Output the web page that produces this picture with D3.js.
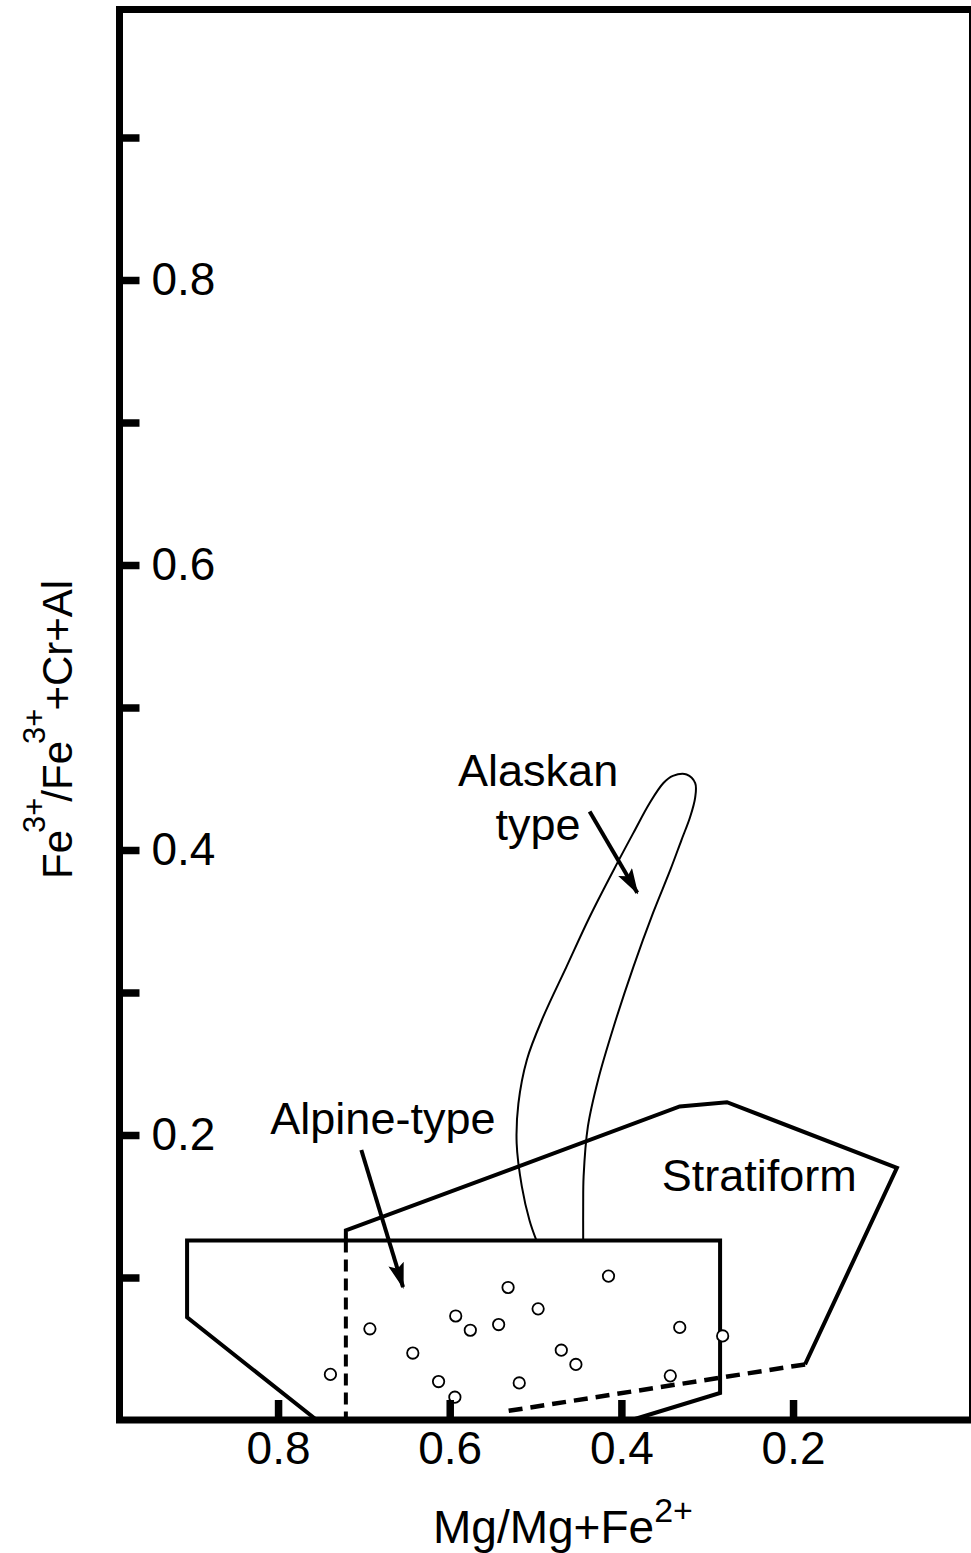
<!DOCTYPE html>
<html>
<head>
<meta charset="utf-8">
<script src="https://cdn.jsdelivr.net/npm/d3@7"></script>
<style>
  html, body { margin: 0; padding: 0; background: #fff; }
  svg { display: block; }
  text { font-family: "Liberation Sans", Arial, Helvetica, sans-serif; fill: #000; }
</style>
</head>
<body>
<svg id="chart" width="971" height="1553"></svg>
<script>
// Axis ticks
const xTicks = [0.8, 0.6, 0.4, 0.2];
const yTicks = [0.2, 0.4, 0.6, 0.8];
const yMinorTicks = [0.1, 0.3, 0.5, 0.7, 0.9];

// Spinel analyses: Mg/(Mg+Fe2+) and Fe3+/(Fe3+ + Cr + Al)
const mgNumber = [0.739, 0.693, 0.643, 0.613, 0.594, 0.593, 0.576, 0.543, 0.532,
                  0.519, 0.497, 0.470, 0.453, 0.415, 0.343, 0.332, 0.282];
const fe3Ratio = [0.032, 0.064, 0.047, 0.027, 0.016, 0.073, 0.063, 0.067, 0.093,
                  0.026, 0.078, 0.049, 0.039, 0.101, 0.031, 0.065, 0.059];

// Field boundaries [Mg#, Fe3+ ratio]
const alpineField = [[0.755, 0], [0.906, 0.072], [0.906, 0.126], [0.285, 0.126],
                     [0.285, 0.019], [0.388, 0]];
const stratiformSolid = [[0.721, 0.126], [0.721, 0.133], [0.332, 0.220], [0.277, 0.223],
                         [0.079, 0.177], [0.186, 0.039]];
const stratiformDashedBase = [[0.186, 0.039], [0.536, 0.006]];
const stratiformDashedSide = [[0.721, 0.126], [0.721, 0]];
// Alaskan-type field: open outline, closed by the top of the alpine-type box
const alaskanField = [[0.499, 0.126], [0.507, 0.140], [0.516, 0.164], [0.522, 0.194],
                      [0.520, 0.222], [0.510, 0.253], [0.491, 0.283], [0.464, 0.318],
                      [0.437, 0.353], [0.409, 0.386], [0.386, 0.412], [0.367, 0.433],
                      [0.351, 0.447], [0.340, 0.452], [0.324, 0.453], [0.314, 0.447],
                      [0.314, 0.437], [0.320, 0.423], [0.330, 0.407], [0.343, 0.386],
                      [0.363, 0.356], [0.386, 0.318], [0.409, 0.276], [0.427, 0.239],
                      [0.439, 0.206], [0.444, 0.171], [0.4445, 0.150], [0.4445, 0.126]];

// Field labels and their pointer arrows
const fieldLabels = [
  { text: "Alaskan", x: 0.497, y: 0.445, anchor: "middle" },
  { text: "type", x: 0.497, y: 0.407, anchor: "middle" },
  { text: "Alpine-type", x: 0.809, y: 0.201, anchor: "start" },
  { text: "Stratiform", x: 0.353, y: 0.161, anchor: "start" }
];
const pointers = [
  { from: [0.437, 0.427], to: [0.3815, 0.370] },
  { from: [0.703, 0.1895], to: [0.6544, 0.0933] }
];

const svg = d3.select("#chart");
const frame = { left: 119.5, top: 9.5, right: 972.5, bottom: 1420 };

const x = d3.scaleLinear().domain([1, 0]).range([106.4, 964.7]);
const y = d3.scaleLinear().domain([0, 1]).range([1420, -5]);

const line = d3.line().x(d => x(d[0])).y(d => y(d[1]));

// Plot frame
svg.append("rect")
  .attr("x", frame.left).attr("y", frame.top)
  .attr("width", frame.right - frame.left).attr("height", frame.bottom - frame.top)
  .attr("fill", "none").attr("stroke", "#000").attr("stroke-width", 7);

// Field outlines
const fields = svg.append("g").attr("fill", "none").attr("stroke", "#000")
  .attr("stroke-linejoin", "miter");
fields.append("path").attr("d", line(alpineField)).attr("stroke-width", 4);
fields.append("path").attr("d", line(stratiformSolid)).attr("stroke-width", 4);
fields.append("path").attr("d", line(stratiformDashedBase)).attr("stroke-width", 4.5)
  .attr("stroke-dasharray", "14,8");
fields.append("path").attr("d", line(stratiformDashedSide)).attr("stroke-width", 4)
  .attr("stroke-dasharray", "12,7");
fields.append("path")
  .attr("d", d3.line().x(d => x(d[0])).y(d => y(d[1])).curve(d3.curveCatmullRom.alpha(0.5))(alaskanField))
  .attr("stroke-width", 2);

// Pointer arrows
const defs = svg.append("defs");
defs.append("marker")
  .attr("id", "arrowhead").attr("viewBox", "0 0 26 16")
  .attr("refX", 24).attr("refY", 8)
  .attr("markerWidth", 26).attr("markerHeight", 16)
  .attr("markerUnits", "userSpaceOnUse").attr("orient", "auto")
  .append("path").attr("d", "M0,0 L26,8 L0,16 L5,8 Z").attr("fill", "#000");

svg.append("g").selectAll("line").data(pointers).join("line")
  .attr("x1", d => x(d.from[0])).attr("y1", d => y(d.from[1]))
  .attr("x2", d => x(d.to[0])).attr("y2", d => y(d.to[1]))
  .attr("stroke", "#000").attr("stroke-width", 4)
  .attr("marker-end", "url(#arrowhead)");

// Field labels
svg.append("g").selectAll("text").data(fieldLabels).join("text")
  .attr("x", d => x(d.x)).attr("y", d => y(d.y))
  .attr("text-anchor", d => d.anchor)
  .attr("font-size", 45)
  .text(d => d.text);

// Spinel analyses
svg.append("g").selectAll("circle").data(mgNumber).join("circle")
  .attr("cx", d => x(d)).attr("cy", (d, i) => y(fe3Ratio[i]))
  .attr("r", 5.7)
  .attr("fill", "#fff").attr("stroke", "#000").attr("stroke-width", 1.8);

// Axes: ticks point inward, y labels sit inside the frame
const xAxis = d3.axisBottom(x).tickValues(xTicks)
  .tickSizeInner(-20).tickSizeOuter(0).tickPadding(11)
  .tickFormat(d3.format(".1f"));
const gx = svg.append("g").attr("transform", `translate(0,${frame.bottom})`).call(xAxis);

const yAxis = d3.axisRight(y).tickValues(yTicks)
  .tickSizeInner(20).tickSizeOuter(0).tickPadding(12)
  .tickFormat(d3.format(".1f"));
const gy = svg.append("g").attr("transform", `translate(${frame.left},0)`).call(yAxis);

const yMinor = d3.axisRight(y).tickValues(yMinorTicks)
  .tickSizeInner(20).tickSizeOuter(0).tickFormat("");
const gym = svg.append("g").attr("transform", `translate(${frame.left},0)`).call(yMinor);

[gx, gy, gym].forEach(g => {
  g.select(".domain").remove();
  g.selectAll(".tick line").attr("stroke", "#000").attr("stroke-width", 7.5);
  g.selectAll(".tick text").attr("font-size", 46)
    .attr("font-family", "'Liberation Sans', Arial, sans-serif").attr("fill", "#000");
});

// Axis titles
const xTitle = svg.append("text").attr("x", 433).attr("y", 1543).attr("font-size", 46);
xTitle.append("tspan").text("Mg/Mg+Fe");
xTitle.append("tspan").attr("dy", -21).attr("font-size", 34).text("2+");

const yTitle = svg.append("text")
  .attr("transform", "translate(72,879) rotate(-90)")
  .attr("font-size", 42);
yTitle.append("tspan").text("Fe");
yTitle.append("tspan").attr("dy", -27).attr("dx", -3).attr("font-size", 31).text("3+");
yTitle.append("tspan").attr("dy", 27).attr("dx", -4).text("/Fe");
yTitle.append("tspan").attr("dy", -27).attr("dx", -3).attr("font-size", 31).text("3+");
yTitle.append("tspan").attr("dy", 27).attr("dx", -2).text("+Cr+Al");
</script>
</body>
</html>
